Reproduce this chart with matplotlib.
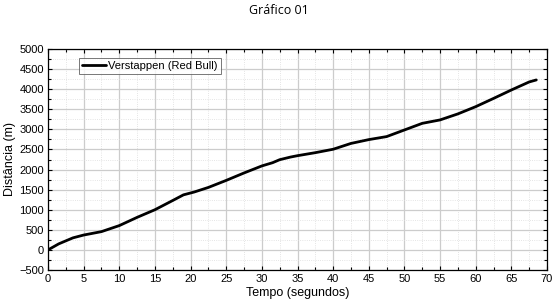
import matplotlib
matplotlib.use("Agg")
import matplotlib.pyplot as plt
from matplotlib.ticker import MultipleLocator

tempo = [0, 1.5, 3.5, 5, 7.5, 10, 12.5, 15, 17.5, 19, 20.5, 22.5, 25, 27.5, 30,
         31.5, 32.5, 34, 35, 37.5, 40, 42.5, 45, 47.5, 50, 52.5, 55, 57.5, 60,
         62.5, 65, 67.5, 68.5]
distancia = [0, 150, 300, 370, 455, 605, 810, 1000, 1230, 1370, 1440, 1555, 1730,
             1915, 2090, 2170, 2245, 2310, 2345, 2420, 2505, 2650, 2745, 2820, 2985,
             3150, 3235, 3385, 3565, 3770, 3980, 4180, 4230]
serie = "Verstappen (Red Bull)"

plt.rcParams['font.family'] = ['Liberation Sans', 'DejaVu Sans']

fig = plt.figure(figsize=(5.56, 3.05), dpi=100)
ax = fig.add_axes([48/556, 1-270/305, (547-48)/556, (270-49)/305])

ax.plot(tempo, distancia, color='black', lw=2.0, solid_joinstyle='round',
        solid_capstyle='round', label=serie, zorder=3)

ax.set_xlim(0, 70)
ax.set_ylim(-500, 5000)
ax.xaxis.set_major_locator(MultipleLocator(5))
ax.xaxis.set_minor_locator(MultipleLocator(2.5))
ax.yaxis.set_major_locator(MultipleLocator(500))
ax.yaxis.set_minor_locator(MultipleLocator(250))

ax.grid(which='major', color='#cccccc', lw=0.9, ls='-')
ax.grid(which='minor', color='#dcdcdc', lw=0.6, ls=':')
ax.set_axisbelow(True)

ax.tick_params(which='both', direction='in', top=True, right=True, labelsize=8, pad=3)
ax.tick_params(which='major', length=3, width=0.8)
ax.tick_params(which='minor', length=2, width=0.8)
for s in ax.spines.values():
    s.set_linewidth(0.9)

ax.set_xlabel("Tempo (segundos)", fontsize=9, labelpad=2)
ax.set_ylabel("Distância (m)", fontsize=9, labelpad=2)

leg = ax.legend(loc='upper left', bbox_to_anchor=(31/499, 1-9/221), fontsize=8,
                frameon=True, fancybox=False, borderpad=0.25, handlelength=2.2,
                handletextpad=0.2, borderaxespad=0)
leg.get_frame().set_edgecolor('#555555')
leg.get_frame().set_linewidth(0.7)

fig.text(279/556, 1-10/305, "Gráfico 01", ha='center', va='center', fontsize=9,
         family=['Open Sans', 'DejaVu Sans'])

fig.savefig("out.png", dpi=100)
